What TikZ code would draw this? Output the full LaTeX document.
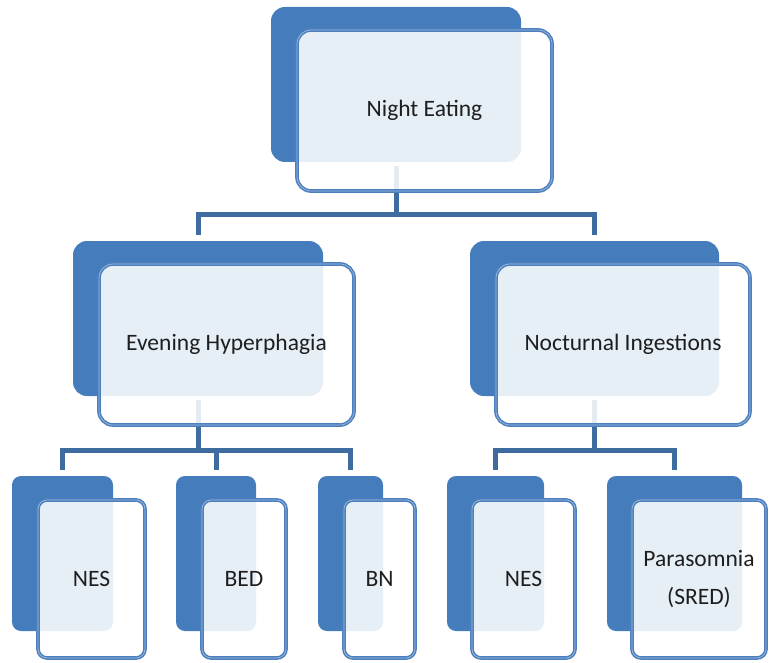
\documentclass[tikz,border=0pt]{standalone}
\usepackage{fontspec}
\setmainfont{Carlito}
\usetikzlibrary{calc}
\definecolor{boxblue}{RGB}{69,124,187}
\definecolor{lineblue}{RGB}{62,108,160}
\definecolor{rimblue}{RGB}{76,127,190}
\definecolor{inkgray}{RGB}{30,30,30}
\begin{document}
\begin{tikzpicture}[x=1pt,y=-1pt,
  backbox/.style={rectangle, fill=boxblue, inner sep=0pt, outer sep=0pt},
  frontbox/.style={rectangle, draw=rimblue, line width=1.5pt,
    double=rimblue!55!white, double distance=0.7pt,
    fill=white, fill opacity=0.87, draw opacity=1, text opacity=1,
    text=inkgray, inner sep=0pt, outer sep=0pt, align=center,
    font=\fontsize{23.5}{38}\selectfont},
  big/.style={rounded corners=14pt},
  small/.style={rounded corners=9pt},
  conn/.style={draw=lineblue, line width=5pt}]
\useasboundingbox (0,0) rectangle (770,663);

% solid back panels
\node[backbox, big, minimum width=250, minimum height=155] (topb) at (396,84.5) {};
\node[backbox, big, minimum width=250, minimum height=155] (Lb) at (198,318.5) {};
\node[backbox, big, minimum width=249, minimum height=155] (Rb) at (594.5,318.5) {};
\node[backbox, small, minimum width=101, minimum height=155] (n1b) at (62.5,553.5) {};
\node[backbox, small, minimum width=80, minimum height=155] (bedb) at (216,553.5) {};
\node[backbox, small, minimum width=65, minimum height=155] (bnb) at (350.5,553.5) {};
\node[backbox, small, minimum width=97, minimum height=155] (n2b) at (495.5,553.5) {};
\node[backbox, small, minimum width=135, minimum height=155] (parb) at (674.5,553.5) {};

% branch joints
\coordinate (jT) at (396,214.5);
\coordinate (jL) at (198,450);
\coordinate (jR) at (594.5,450);

% tree connectors
\draw[conn, shorten <=4pt] (topb.south) -- (jT);
\draw[conn, shorten <=6.5pt, shorten >=6.5pt] (Lb.north) |- (jT) -| (Rb.north);

\draw[conn, shorten <=4pt] (Lb.south) -- (jL);
\draw[conn, shorten <=6.5pt, shorten >=6.5pt] (n1b.north) |- (jL) -| (bnb.north);
\draw[conn, shorten >=6.5pt] (jL) -| (bedb.north);

\draw[conn, shorten <=4pt] (Rb.south) -- (jR);
\draw[conn, shorten <=6.5pt, shorten >=6.5pt] (n2b.north) |- (jR) -| (parb.north);

% translucent front panels with labels
\node[frontbox, big, minimum width=255, minimum height=161] (topf) at (424.5,110.5) {Night Eating};
\node[frontbox, big, minimum width=255, minimum height=161] (Lf) at (226.5,344.5) {Evening Hyperphagia};
\node[frontbox, big, minimum width=254, minimum height=161] (Rf) at (623,344.5) {Nocturnal Ingestions};
\node[frontbox, small, minimum width=107, minimum height=158] (n1f) at (91.5,579) {NES};
\node[frontbox, small, minimum width=84, minimum height=158] (bedf) at (244,579) {BED};
\node[frontbox, small, minimum width=71, minimum height=158] (bnf) at (379.5,579) {BN};
\node[frontbox, small, minimum width=103, minimum height=158] (n2f) at (523.5,579) {NES};
\node[frontbox, small, minimum width=134, minimum height=158] (parf) at (699,579) {Parasomnia\\(SRED)};
\end{tikzpicture}
\end{document}
